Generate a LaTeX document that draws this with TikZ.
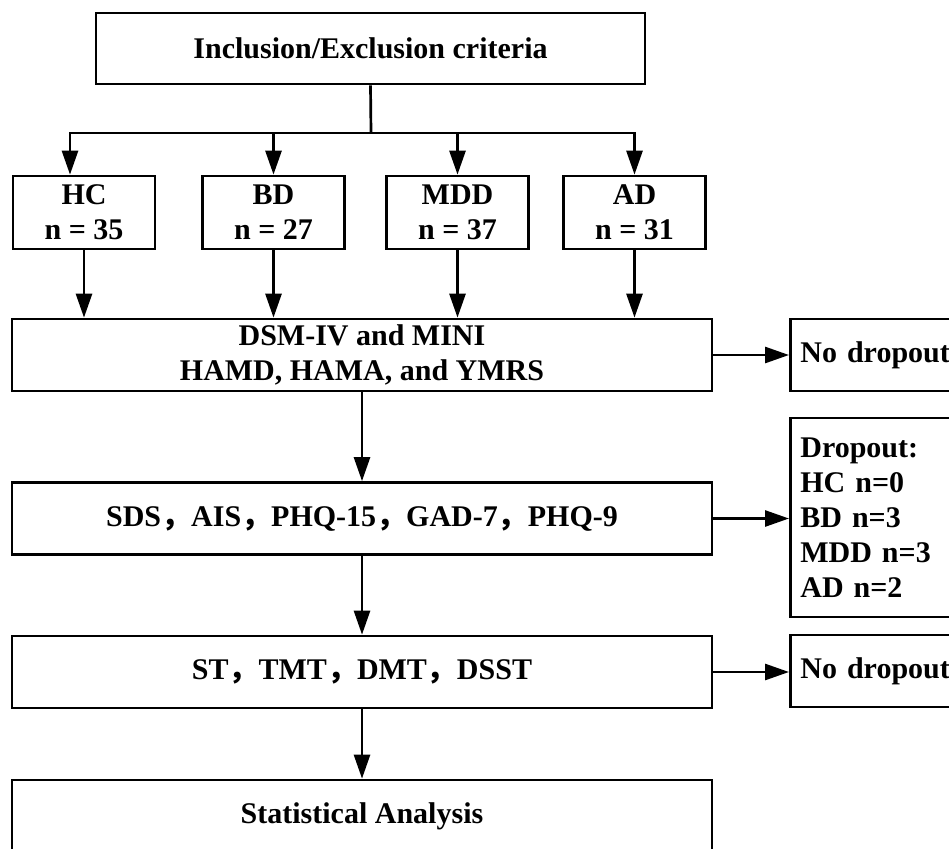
\documentclass[tikz,border=0pt]{standalone}
\usepackage{fontspec}
\setmainfont{Liberation Serif}
\newfontfamily\cjkfont{Noto Sans CJK SC}
\usetikzlibrary{arrows.meta}
\newcommand{\zc}{{\cjkfont ，}}
\tikzset{
    every node/.append style={
        font=\fontsize{30}{35}\selectfont\bfseries,
        inner sep=0pt,
    },
    box/.style={
        draw,
        align=center,
        minimum height=72pt,
    },
    grp/.style={
        box,
        minimum width=142pt,
        minimum height=73pt,
    },
    wide/.style={
        box,
        minimum width=700pt,
    },
    side/.style={
        box,
        anchor=west,
        align=left,
        text width=150pt,
        inner xsep=10pt,
    },
    arr/.style={
        -{Triangle[length=24pt,width=16pt]},
    }
}

\begin{document}
\begin{tikzpicture}[x=1pt, y=-1pt, line width=2.7pt]
    \clip (0,0) rectangle (949,848);

    \node[box, minimum width=549pt, minimum height=71pt] (incl) at (370.5,48.5) {Inclusion/Exclusion criteria};

    % groups
    \node[grp] (hc)  at (84,212.5)    {HC\\n = 35};
    \node[grp] (bd)  at (273.5,212.5) {BD\\n = 27};
    \node[grp] (mdd) at (457.5,212.5) {MDD\\n = 37};
    \node[grp] (ad)  at (634.5,212.5) {AD\\n = 31};

    \node[wide] (dsm)  at (362,355)   {DSM-IV and MINI\\HAMD, HAMA, and YMRS};
    \node[wide] (sds)  at (362,518.5) {SDS\zc AIS\zc PHQ-15\zc GAD-7\zc PHQ-9};
    \node[wide] (st)   at (362,672)   {ST\zc TMT\zc DMT\zc DSST};
    \node[wide] (stat) at (362,816)   {Statistical Analysis};

    % dropout side
    \node[side] (nodrop1) at (789,355) {No dropout};
    \node[side, minimum height=199pt] (drop) at (789,517.5) {Dropout:\\HC n=0\\BD n=3\\MDD n=3\\AD n=2};
    \node[side] (nodrop2) at (789,671) {No dropout};

    \coordinate (bus) at (371,133);
    \draw (incl.south) -- (bus);
    \draw[arr] (bus) -| ([xshift=-14pt]hc.north);
    \foreach \g in {bd,mdd,ad}
        \draw[arr] (bus) -| (\g.north);
    \foreach \g in {hc,bd,mdd,ad}
        \draw[arr] (\g.south) -- (\g.south |- dsm.north);

    \draw[arr] (dsm.south) -- (sds.north);
    \draw[arr] (sds.south) -- (st.north);
    \draw[arr] (st.south) -- (stat.north);
    %\draw[arr] (stat.east) -- ++(40,0);

    \draw[arr] (dsm.east) -- (nodrop1.west);
    \draw[arr] (sds.east) -- (sds.east -| drop.west);
    \draw[arr] (st.east) -- (st.east -| nodrop2.west);
\end{tikzpicture}
\end{document}
